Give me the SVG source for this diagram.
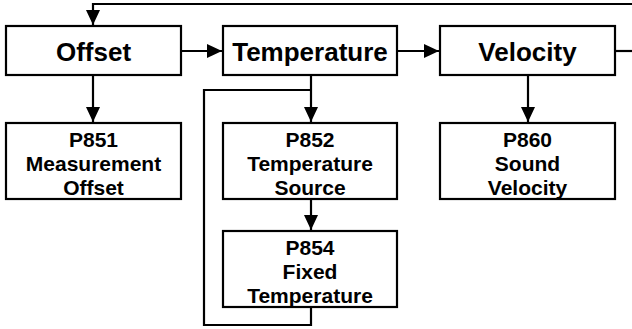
<svg xmlns="http://www.w3.org/2000/svg" width="632" height="329" viewBox="0 0 632 329">
<style>
.box{fill:#fff;stroke:#000;stroke-width:2.2}
.big{font-family:"Liberation Sans",Arial,sans-serif;font-weight:bold;font-size:26px;text-anchor:middle;fill:#000}
.sm{font-family:"Liberation Sans",Arial,sans-serif;font-weight:bold;font-size:21px;text-anchor:middle;fill:#000}
.ln{fill:none;stroke:#000;stroke-width:2.2}
</style>
<defs>
<marker id="ah" markerUnits="userSpaceOnUse" markerWidth="16" markerHeight="14" viewBox="0 0 16 14" refX="15" refY="7" orient="auto">
<path d="M0,0 L15,7 L0,14 Z" fill="#000"/>
</marker>
</defs>
<g id="connectors">
<path class="ln" d="M632,4 H93 V25" marker-end="url(#ah)"/>
<path class="ln" d="M181,51 H222" marker-end="url(#ah)"/>
<path class="ln" d="M397,51 H439" marker-end="url(#ah)"/>
<path class="ln" d="M615,51 H632"/>
<path class="ln" d="M93,75 V122" marker-end="url(#ah)"/>
<path class="ln" d="M311,75 V122" marker-end="url(#ah)"/>
<path class="ln" d="M528,75 V122" marker-end="url(#ah)"/>
<path class="ln" d="M311,199 V230" marker-end="url(#ah)"/>
<path class="ln" d="M311,90 H204 V325 H311 V307"/>
</g>
<g id="offset"><rect class="box" x="6" y="26" width="175" height="49"/><text class="big" x="93.5" y="60.5">Offset</text></g>
<g id="temperature"><rect class="box" x="223" y="26" width="174" height="49"/><text class="big" x="310" y="60.5">Temperature</text></g>
<g id="velocity"><rect class="box" x="440" y="26" width="175" height="49"/><text class="big" x="527.5" y="60.5">Velocity</text></g>
<g id="p851"><rect class="box" x="6" y="123" width="175" height="76"/>
<text class="sm" x="93.5" y="147">P851</text><text class="sm" x="93.5" y="171">Measurement</text><text class="sm" x="93.5" y="195">Offset</text></g>
<g id="p852"><rect class="box" x="223" y="123" width="174" height="76"/>
<text class="sm" x="310" y="147">P852</text><text class="sm" x="310" y="171">Temperature</text><text class="sm" x="310" y="195">Source</text></g>
<g id="p854"><rect class="box" x="223" y="231" width="174" height="76"/>
<text class="sm" x="310" y="255">P854</text><text class="sm" x="310" y="279">Fixed</text><text class="sm" x="310" y="303">Temperature</text></g>
<g id="p860"><rect class="box" x="440" y="123" width="175" height="76"/>
<text class="sm" x="527.5" y="147">P860</text><text class="sm" x="527.5" y="171">Sound</text><text class="sm" x="527.5" y="195">Velocity</text></g>
</svg>
